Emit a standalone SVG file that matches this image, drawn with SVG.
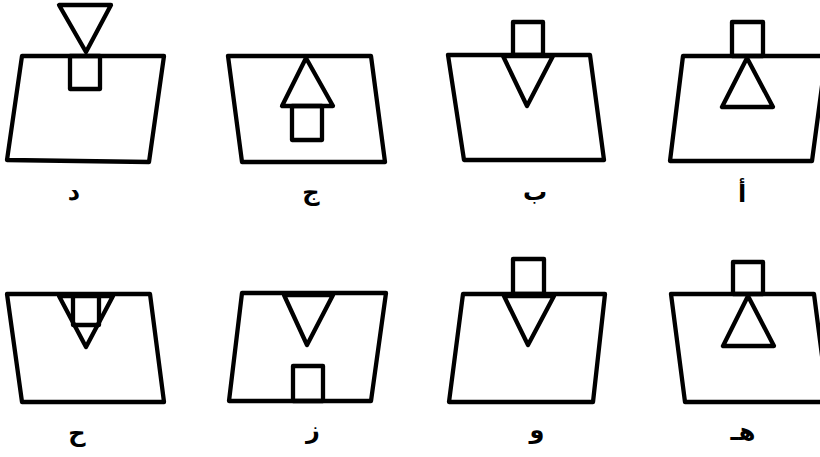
<svg xmlns="http://www.w3.org/2000/svg" width="820" height="457" viewBox="0 0 820 457">
<style>
.s{fill:none;stroke:#000;stroke-width:4.3;stroke-linejoin:round;stroke-linecap:round}
.l{font-family:"DejaVu Sans",sans-serif;font-size:24px;font-weight:bold;text-anchor:middle;fill:#000}
</style>
<rect width="820" height="457" fill="#fff"/>
<g id="dal">
<polygon class="s" points="22,56 164,56 149,162 7,160"/>
<polygon class="s" points="59,5 111,5 86,52"/>
<rect class="s" x="70" y="56" width="30" height="33"/>
<text class="l" x="74" y="200">د</text>
</g>
<g id="jim">
<polygon class="s" points="228,56 371,56 385,162 242,162"/>
<polygon class="s" points="306,58 282,106 333,106"/>
<rect class="s" x="292" y="106" width="30" height="34"/>
<text class="l" x="311" y="200">ج</text>
</g>
<g id="ba">
<polygon class="s" points="448,55 590,55 604,160 464,160"/>
<rect class="s" x="513" y="22" width="30" height="33"/>
<polygon class="s" points="503,56 553,56 527,106"/>
<text class="l" x="535" y="200">ب</text>
</g>
<g id="alif">
<polygon class="s" points="683,56 826,56 812,161 670,161"/>
<rect class="s" x="732" y="22" width="31" height="34"/>
<polygon class="s" points="747,58 722,107 773,107"/>
<text class="l" x="742" y="202">أ</text>
</g>
<g id="ha">
<polygon class="s" points="7,294 150,294 164,402 22,402"/>
<polygon class="s" points="59,296 113,296 86,347"/>
<polyline class="s" points="73,296 73,325 99,325 99,296"/>
<text class="l" x="77" y="441">ح</text>
</g>
<g id="zay">
<polygon class="s" points="242,293 386,293 371,401 229,401"/>
<polygon class="s" points="284,295 333,295 307,345"/>
<rect class="s" x="293" y="366" width="30" height="35"/>
<text class="l" x="313" y="438">ز</text>
</g>
<g id="waw">
<polygon class="s" points="463,294 605,294 593,402 449,402"/>
<rect class="s" x="513" y="259" width="31" height="35"/>
<polygon class="s" points="504,296 554,296 528,345"/>
<text class="l" x="537" y="438">و</text>
</g>
<g id="heh">
<polygon class="s" points="671,294 814,294 828,402 685,402"/>
<rect class="s" x="733" y="262" width="30" height="32"/>
<polygon class="s" points="748,296 723,346 774,346"/>
<text class="l" x="743" y="440">هـ</text>
</g>
<g id="connectors"/>
</svg>
